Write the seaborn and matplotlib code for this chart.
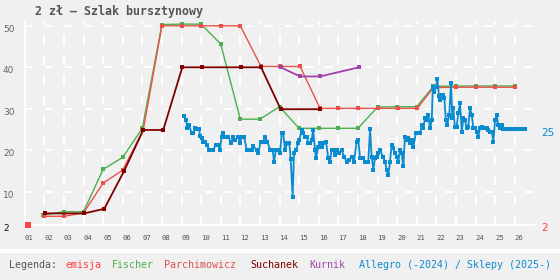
import matplotlib
matplotlib.use("Agg")
import matplotlib.pyplot as plt
import matplotlib.transforms as mtransforms
from matplotlib.patches import Rectangle
import seaborn as sns

sns.set_theme(style="white")
plt.rcParams['font.family'] = ['DejaVu Sans Mono', 'DejaVu Sans']
plt.rcParams['lines.scale_dashes'] = False

# --- dane ---
emisja_t = [2001.18]
emisja_v = [2]

fischer_t = [2001.95, 2003.0, 2004.0, 2005.0, 2006.0, 2007.0, 2008.0, 2009.0, 2010.0,
             2011.0, 2012.0, 2013.0, 2014.0, 2015.0, 2016.0, 2017.0, 2018.0, 2019.0,
             2020.0, 2021.0, 2021.85, 2023.0, 2024.0, 2025.0, 2026.0]
fischer_v = [4.4, 5.2, 5.2, 15.4, 18.3, 25.3, 50.3, 50.4, 50.4, 45.6, 27.5, 27.5,
             30.5, 25.3, 25.3, 25.3, 25.3, 30.4, 30.5, 30.5, 35.4, 35.5, 35.5, 35.5, 35.5]

parch_t = [2001.98, 2003.0, 2004.0, 2005.0, 2006.0, 2007.05, 2008.0, 2009.0, 2010.0,
           2011.0, 2012.0, 2013.06, 2014.0, 2015.05, 2016.07, 2017.0, 2018.0, 2019.0,
           2020.03, 2021.03, 2021.85, 2023.0, 2024.0, 2025.0, 2026.0]
parch_v = [4.1, 4.1, 4.9, 12.1, 15.2, 24.9, 50.0, 50.0, 50.0, 50.0, 50.0, 40.2,
           40.2, 40.2, 30.1, 30.1, 30.1, 30.1, 30.1, 30.1, 35.1, 35.2, 35.2, 35.2, 35.2]

such_t = [2002.04, 2004.04, 2005.06, 2006.07, 2007.05, 2008.07, 2009.04, 2010.05,
          2012.05, 2013.06, 2014.06, 2016.07]
such_v = [4.8, 4.8, 5.9, 15.0, 24.9, 24.9, 40.0, 40.0, 40.0, 40.0, 29.9, 29.9]

kurnik_t = [2014.06, 2015.05, 2016.07, 2018.06]
kurnik_v = [40.0, 37.8, 37.8, 40.0]

allegro_t = [
    2009.14, 2009.23, 2009.30, 2009.38, 2009.52, 2009.60, 2009.69, 2009.78, 2009.91, 2009.94,
    2010.03, 2010.11, 2010.20, 2010.29, 2010.42, 2010.54, 2010.62, 2010.74, 2010.88, 2010.96,
    2011.05, 2011.13, 2011.22, 2011.39, 2011.53, 2011.64, 2011.73, 2011.90, 2011.98,
    2012.07, 2012.19, 2012.33, 2012.49, 2012.58, 2012.66, 2012.84, 2012.92,
    2013.04, 2013.17, 2013.26, 2013.38, 2013.52, 2013.65, 2013.72, 2013.82, 2013.94,
    2014.03, 2014.11, 2014.19, 2014.28, 2014.40, 2014.50, 2014.57, 2014.67, 2014.74, 2014.84, 2014.96,
    2015.01, 2015.13, 2015.21, 2015.30, 2015.39, 2015.47, 2015.56, 2015.64, 2015.72, 2015.81, 2015.86, 2015.98,
    2016.07, 2016.15, 2016.23, 2016.37, 2016.49, 2016.58, 2016.66, 2016.74, 2016.83, 2016.92,
    2017.05, 2017.17, 2017.29, 2017.43, 2017.56, 2017.68, 2017.80, 2017.94,
    2018.02, 2018.11, 2018.24, 2018.36, 2018.45, 2018.53, 2018.62, 2018.70, 2018.79, 2018.87, 2018.96,
    2019.04, 2019.13, 2019.27, 2019.38, 2019.47, 2019.55, 2019.64, 2019.72, 2019.81, 2019.89, 2019.98,
    2020.06, 2020.15, 2020.23, 2020.32, 2020.40, 2020.49, 2020.57, 2020.66, 2020.74, 2020.83, 2020.96,
    2021.08, 2021.17, 2021.26, 2021.34, 2021.42, 2021.51, 2021.59, 2021.68, 2021.77, 2021.82, 2021.88, 2021.98,
    2022.05, 2022.14, 2022.19, 2022.28, 2022.36, 2022.41, 2022.49, 2022.56, 2022.66, 2022.75, 2022.82, 2022.87, 2022.95,
    2023.04, 2023.12, 2023.21, 2023.30, 2023.38, 2023.46, 2023.55, 2023.63, 2023.72, 2023.81, 2023.89, 2023.97,
    2024.06, 2024.14, 2024.23, 2024.32, 2024.40, 2024.48, 2024.57, 2024.65, 2024.74, 2024.83, 2024.91,
    2025.00, 2025.08, 2025.16, 2025.25, 2025.34, 2025.42, 2025.50, 2025.58, 2025.66, 2025.74, 2025.82,
    2025.90, 2025.98, 2026.06, 2026.14, 2026.22, 2026.30, 2026.38, 2026.46, 2026.53]
allegro_v = [
    28.3, 27.3, 25.3, 26.1, 24.1, 24.1, 25.3, 25.1, 25.1, 23.4,
    22.9, 22.1, 22.1, 21.3, 20.1, 20.1, 20.1, 21.3, 21.3, 20.1,
    23.3, 24.1, 23.3, 23.3, 21.7, 23.3, 22.5, 23.3, 21.7,
    23.3, 23.3, 20.1, 20.1, 20.1, 21.0, 20.1, 19.3,
    22.1, 22.1, 23.3, 22.1, 20.1, 20.1, 17.3, 20.1, 20.1,
    19.3, 24.1, 24.1, 20.1, 21.7, 21.7, 18.0, 8.8, 19.3, 20.1, 21.7,
    22.5, 24.9, 24.1, 23.3, 23.3, 21.7, 21.7, 22.5, 24.9, 20.1, 18.1, 20.9,
    21.7, 20.9, 21.7, 22.1, 18.1, 17.3, 20.1, 20.1, 18.9, 20.1,
    19.3, 20.1, 18.5, 17.3, 17.7, 18.5, 17.3, 22.1,
    22.5, 18.1, 18.1, 17.3, 17.3, 17.3, 25.1, 18.5, 15.3, 18.1, 18.5,
    19.3, 20.1, 18.5, 17.3, 15.3, 14.0, 17.3, 21.3, 20.5, 19.3, 18.5,
    17.3, 20.1, 19.3, 16.1, 23.3, 22.5, 22.9, 21.7, 22.5, 20.9, 24.1,
    24.1, 24.1, 26.1, 25.3, 27.7, 27.3, 28.5, 25.3, 27.3, 35.3, 34.1, 35.3,
    37.1, 33.0, 32.1, 33.3, 33.3, 32.5, 27.3, 26.1, 28.5, 36.1, 27.7, 30.1, 25.7,
    25.7, 28.9, 31.3, 24.5, 27.7, 27.3, 25.3, 25.7, 30.1, 28.5, 25.3, 25.3,
    24.5, 23.3, 25.3, 25.7, 25.3, 25.3, 25.3, 24.9, 24.5, 24.5, 22.1,
    27.3, 28.5, 26.1, 25.3, 26.1, 25.1, 25.1, 25.1, 25.1, 25.1, 25.1,
    25.1, 25.1, 25.1, 25.1, 25.1, 25.1, 25.1, 25.1, 25.1]

year_ticks = list(range(2001, 2027))
year_labels = [f"{y % 100:02d}" for y in year_ticks]
y_ticks = [2, 10, 20, 30, 40, 50]

BG = '#f0f0f0'
fig = plt.figure(figsize=(5.6, 2.8), dpi=100, facecolor=BG)
ax = fig.add_axes([24.7 / 560, 55 / 280, 509.6 / 560, 203.35 / 280])
ax.set_facecolor(BG)

sns.lineplot(x=fischer_t, y=fischer_v, ax=ax, color='#4caf50', linewidth=1.0,
             marker='s', markersize=2.6, markeredgewidth=0, errorbar=None)
sns.lineplot(x=parch_t, y=parch_v, ax=ax, color='#e8524a', linewidth=1.0,
             marker='s', markersize=2.6, markeredgewidth=0, errorbar=None)
sns.lineplot(x=such_t, y=such_v, ax=ax, color='#800000', linewidth=1.3,
             marker='s', markersize=3.0, markeredgewidth=0, errorbar=None)
sns.lineplot(x=kurnik_t, y=kurnik_v, ax=ax, color='#a044a8', linewidth=1.3,
             marker='s', markersize=2.8, markeredgewidth=0, errorbar=None)
sns.lineplot(x=allegro_t, y=allegro_v, ax=ax, color='#0a8bd0', linewidth=1.3,
             marker='s', markersize=2.9, markeredgewidth=0, errorbar=None)
sns.scatterplot(x=emisja_t, y=emisja_v, ax=ax, color='#ff4444', marker='s',
                s=14, linewidth=0, clip_on=False, zorder=5)

ax.set_xlim(2001, 2027)
ax.set_ylim(2, 51)
ax.set_xlabel('')
ax.set_ylabel('')

ax.set_xticks(year_ticks)
ax.set_xticklabels(year_labels, fontsize=5.2, color='#555555', ha='left')
ax.set_yticks(y_ticks)
ax.set_yticklabels([str(v) for v in y_ticks], fontsize=6.5, color='#666666',
                   ha='left', family='DejaVu Sans')
ax.get_yticklabels()[0].set_color('#111111')
ax.tick_params(axis='x', length=0, pad=7.5)
ax.tick_params(axis='y', length=0, pad=15.6)
shift = mtransforms.ScaledTranslation(0, -0.025, fig.dpi_scale_trans)
for lab in ax.get_yticklabels():
    lab.set_transform(lab.get_transform() + shift)

ax.xaxis.grid(True, color='white', linewidth=1.4, linestyle=(0, (7.2, 7.2)))
ax.yaxis.grid(True, color='white', linewidth=1.4, linestyle=(0, (5.8, 8.6)))
ax.set_axisbelow(True)
for s in ['top', 'right']:
    ax.spines[s].set_visible(False)
for s in ['left', 'bottom']:
    ax.spines[s].set_color('white')
    ax.spines[s].set_linewidth(1.4)

# ostatnie wartości po prawej
ax.annotate('25', xy=(1, 25), xycoords=('axes fraction', 'data'), xytext=(5.3, -2.4),
            textcoords='offset points', va='center', ha='left', fontsize=7.5,
            color='#0a8bd0', family='DejaVu Sans')
ax.annotate('2', xy=(1, 2), xycoords=('axes fraction', 'data'), xytext=(5.3, -2.2),
            textcoords='offset points', va='center', ha='left', fontsize=7.5,
            color='#ff4444', family='DejaVu Sans')

fig.text(35 / 560, 1 - 12 / 280, '2 zł – Szlak bursztynowy', fontsize=8.4,
         fontweight='bold', color='#555555', va='center', ha='left')

# pasek oddzielający i legenda
fig.add_artist(Rectangle((0, 27 / 280), 1, 4 / 280, transform=fig.transFigure,
                         facecolor='white', edgecolor='none'))
legend_items = [('Legenda:', '#555555', 9), ('emisja', '#ff4040', 65),
                ('Fischer', '#4caf50', 112), ('Parchimowicz', '#e05050', 164),
                ('Suchanek', '#800000', 250), ('Kurnik', '#a044a8', 309),
                ('Allegro (-2024) / Sklepy (2025-)', '#0a8bd0', 359)]
for txt, col, xp in legend_items:
    fig.text(xp / 560, 1 - 265 / 280, txt, fontsize=7.2, color=col, va='center', ha='left')

fig.savefig('out.png', dpi=100, facecolor=BG)
